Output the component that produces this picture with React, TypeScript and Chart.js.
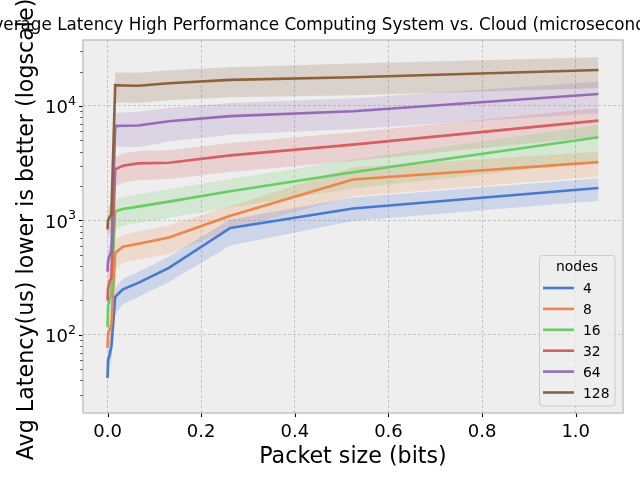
import { useEffect, useRef } from "react";
import { Chart, registerables } from "chart.js";

Chart.register(...registerables);

// ---- data ----
const packetSizes = [0.000001, 0.001024, 0.004096, 0.008192, 0.016384, 0.032768, 0.065536, 0.131072, 0.262144, 0.524288, 1.048576];
const nodeLabels = ["4", "8", "16", "32", "64", "128"];

const mean4 = [42, 60, 66, 79, 215, 250, 285, 385, 860, 1270, 1920];
const lo4 = [31, 45, 50, 60, 150, 185, 215, 290, 605, 990, 1490];
const hi4 = [53, 75, 82, 98, 257, 310, 355, 485, 1020, 1590, 2340];

const mean8 = [77, 100, 110, 122, 520, 590, 625, 710, 1100, 2280, 3230];
const lo8 = [56, 75, 82, 90, 373, 430, 455, 510, 835, 1630, 2415];
const hi8 = [98, 125, 138, 155, 682, 750, 800, 910, 1330, 2920, 3990];

const mean16 = [117, 180, 200, 233, 1200, 1260, 1320, 1460, 1800, 2640, 5330];
const lo16 = [85, 130, 145, 170, 834, 900, 950, 1050, 1300, 1900, 3260];
const hi16 = [150, 230, 255, 295, 1510, 1600, 1690, 1870, 2300, 3400, 6820];

const mean32 = [200, 255, 290, 316, 2800, 3000, 3150, 3190, 3700, 4600, 7450];
const lo32 = [145, 185, 210, 230, 1970, 2150, 2250, 2300, 2650, 3300, 5400];
const hi32 = [255, 325, 370, 400, 3600, 3850, 4050, 4100, 4750, 5900, 9550];

const mean64 = [357, 440, 490, 535, 6670, 6720, 6760, 7360, 8150, 9000, 12740];
const lo64 = [260, 320, 355, 385, 4420, 4400, 4360, 4900, 5600, 6300, 8630];
const hi64 = [455, 560, 625, 685, 8630, 8750, 8900, 9600, 10600, 11700, 16300];

const mean128 = [835, 1000, 1060, 1130, 15200, 15100, 15000, 15800, 16900, 17800, 20600];
const lo128 = [600, 720, 760, 810, 10560, 10700, 10600, 11200, 11900, 12400, 14300];
const hi128 = [1070, 1280, 1360, 1450, 19500, 19600, 19500, 20500, 21800, 23500, 26600];

const means = [mean4, mean8, mean16, mean32, mean64, mean128];
const lows = [lo4, lo8, lo16, lo32, lo64, lo128];
const highs = [hi4, hi8, hi16, hi32, hi64, hi128];

const xTickValues = [0, 0.2, 0.4, 0.6, 0.8, 1.0];
const xTickLabels = ["0.0", "0.2", "0.4", "0.6", "0.8", "1.0"];
const yMajorTicks = [100, 1000, 10000];
const yTickExponents = ["2", "3", "4"];
const yMinorTicks = [30, 40, 50, 60, 70, 80, 90, 200, 300, 400, 500, 600, 700, 800, 900, 2000, 3000, 4000, 5000, 6000, 7000, 8000, 9000, 20000, 30000];

const xRange = [-0.0524, 1.101];
const yRange = [20.8, 37700];

const titleText = "Average Latency High Performance Computing System vs. Cloud (microseconds)";
const xLabelText = "Packet size (bits)";
const yLabelText = "Avg Latency(us) lower is better (logscale)";
const legendTitle = "nodes";

// ---- styles ----
const colors = ["#4878d0", "#ee854a", "#6acc64", "#d65f5f", "#956cb4", "#8c613c"];
const bandColors = [
  "rgba(72,120,208,0.2)",
  "rgba(238,133,74,0.2)",
  "rgba(106,204,100,0.2)",
  "rgba(214,95,95,0.2)",
  "rgba(149,108,180,0.2)",
  "rgba(140,97,60,0.2)",
];
const FONT = '"DejaVu Sans", sans-serif';

const decorPlugin = {
  id: "decor",
  beforeDraw(chart: any) {
    const { ctx, chartArea: a } = chart;
    ctx.save();
    ctx.fillStyle = "#ffffff";
    ctx.fillRect(0, 0, chart.width, chart.height);
    ctx.fillStyle = "#eeeeee";
    ctx.fillRect(a.left, a.top, a.right - a.left, a.bottom - a.top);
    ctx.restore();
  },
  afterDraw(chart: any) {
    const { ctx, chartArea: a } = chart;
    const xs = chart.scales.x;
    const ys = chart.scales.y;
    ctx.save();

    // legend
    const lx = 539.5, ly = 255.5, lw = 75.5, lh = 150.5;
    ctx.beginPath();
    ctx.roundRect(lx, ly, lw, lh, 3);
    ctx.fillStyle = "rgba(238,238,238,0.8)";
    ctx.fill();
    ctx.strokeStyle = "#cccccc";
    ctx.lineWidth = 1;
    ctx.stroke();
    ctx.fillStyle = "#000";
    ctx.font = `13.9px ${FONT}`;
    ctx.textAlign = "center";
    ctx.textBaseline = "alphabetic";
    ctx.fillText(legendTitle, 577, 271);
    ctx.textAlign = "left";
    nodeLabels.forEach((lab, i) => {
      const ry = 288 + i * 20.9;
      ctx.beginPath();
      ctx.moveTo(543, ry);
      ctx.lineTo(574, ry);
      ctx.strokeStyle = colors[i];
      ctx.lineWidth = 2.6;
      ctx.stroke();
      ctx.fillStyle = "#000";
      ctx.fillText(lab, 583, ry + 5);
    });

    // spines
    ctx.strokeStyle = "#bcbcbc";
    ctx.lineWidth = 1.3;
    ctx.strokeRect(a.left, a.top, a.right - a.left, a.bottom - a.top);

    // ticks
    ctx.strokeStyle = "#000";
    ctx.lineWidth = 1.1;
    xTickValues.forEach((v) => {
      const px = Math.round(xs.getPixelForValue(v)) + 0.5;
      ctx.beginPath();
      ctx.moveTo(px, a.bottom + 0.6);
      ctx.lineTo(px, a.bottom + 4.1);
      ctx.stroke();
    });
    yMajorTicks.forEach((v) => {
      const py = Math.round(ys.getPixelForValue(v)) + 0.5;
      ctx.beginPath();
      ctx.moveTo(a.left - 0.6, py);
      ctx.lineTo(a.left - 4.1, py);
      ctx.stroke();
    });
    ctx.lineWidth = 0.8;
    yMinorTicks.forEach((v) => {
      const py = Math.round(ys.getPixelForValue(v)) + 0.5;
      ctx.beginPath();
      ctx.moveTo(a.left - 0.6, py);
      ctx.lineTo(a.left - 2.6, py);
      ctx.stroke();
    });

    // x tick labels
    ctx.fillStyle = "#000";
    ctx.font = `18px ${FONT}`;
    ctx.textAlign = "center";
    ctx.textBaseline = "alphabetic";
    xTickValues.forEach((v, i) => {
      ctx.fillText(xTickLabels[i], xs.getPixelForValue(v), 437);
    });

    // y tick labels (10^n)
    yMajorTicks.forEach((v, i) => {
      const py = ys.getPixelForValue(v);
      ctx.font = `12.6px ${FONT}`;
      const wSup = ctx.measureText(yTickExponents[i]).width;
      ctx.font = `18px ${FONT}`;
      const wBase = ctx.measureText("10").width;
      const right = a.left - 7;
      ctx.textAlign = "left";
      ctx.fillText("10", right - wSup - wBase, py + 7.5);
      ctx.font = `12.6px ${FONT}`;
      ctx.fillText(yTickExponents[i], right - wSup, py - 1);
    });

    // axis labels
    ctx.font = `22.2px ${FONT}`;
    ctx.textAlign = "center";
    ctx.fillText(xLabelText, (a.left + a.right) / 2, 463);
    ctx.save();
    ctx.translate(33, (a.top + a.bottom) / 2 + 3);
    ctx.rotate(-Math.PI / 2);
    ctx.fillText(yLabelText, 0, 0);
    ctx.restore();

    // title
    ctx.font = `16.8px ${FONT}`;
    ctx.textAlign = "center";
    ctx.fillText(titleText, 322, 30);

    ctx.restore();
  },
};

export default function App() {
  const ref = useRef<HTMLCanvasElement | null>(null);
  useEffect(() => {
    if (!ref.current) return;
    const datasets: any[] = [];
    nodeLabels.forEach((lab, i) => {
      datasets.push({
        label: lab + " lo",
        data: packetSizes.map((x, j) => ({ x, y: lows[i][j] })),
        borderWidth: 0,
        pointRadius: 0,
        fill: false,
        order: 100,
      });
      datasets.push({
        label: lab + " hi",
        data: packetSizes.map((x, j) => ({ x, y: highs[i][j] })),
        borderWidth: 0,
        pointRadius: 0,
        fill: "-1",
        backgroundColor: bandColors[i],
        order: 100,
      });
    });
    nodeLabels.forEach((lab, i) => {
      datasets.push({
        label: lab,
        data: packetSizes.map((x, j) => ({ x, y: means[i][j] })),
        borderColor: colors[i],
        borderWidth: 2.6,
        pointRadius: 0,
        fill: false,
        tension: 0,
        order: 10 - i,
      });
    });

    const chart = new Chart(ref.current, {
      type: "line",
      data: { datasets },
      options: {
        animation: false,
        responsive: false,
        devicePixelRatio: 1,
        layout: { padding: { left: 0, right: 17, top: 40, bottom: 0 } },
        plugins: {
          legend: { display: false },
          tooltip: { enabled: false },
          title: { display: false },
        },
        scales: {
          x: {
            type: "linear",
            min: xRange[0],
            max: xRange[1],
            afterBuildTicks: (s: any) => {
              s.ticks = xTickValues.map((v) => ({ value: v }));
            },
            afterFit: (s: any) => {
              s.height = 67;
            },
            ticks: { display: false },
            grid: { color: "#b2b2b2", lineWidth: 0.7, drawTicks: false },
            border: { display: false, dash: [3, 2] },
          },
          y: {
            type: "logarithmic",
            min: yRange[0],
            max: yRange[1],
            afterBuildTicks: (s: any) => {
              s.ticks = yMajorTicks.map((v) => ({ value: v }));
            },
            afterFit: (s: any) => {
              s.width = 83;
            },
            ticks: { display: false },
            grid: { color: "#b2b2b2", lineWidth: 0.7, drawTicks: false },
            border: { display: false, dash: [3, 2] },
          },
        },
      } as any,
      plugins: [decorPlugin],
    });
    return () => chart.destroy();
  }, []);

  return (
    <div style={{ position: "absolute", left: 0, top: 0, width: 640, height: 480 }}>
      <canvas ref={ref} width={640} height={480} />
    </div>
  );
}
